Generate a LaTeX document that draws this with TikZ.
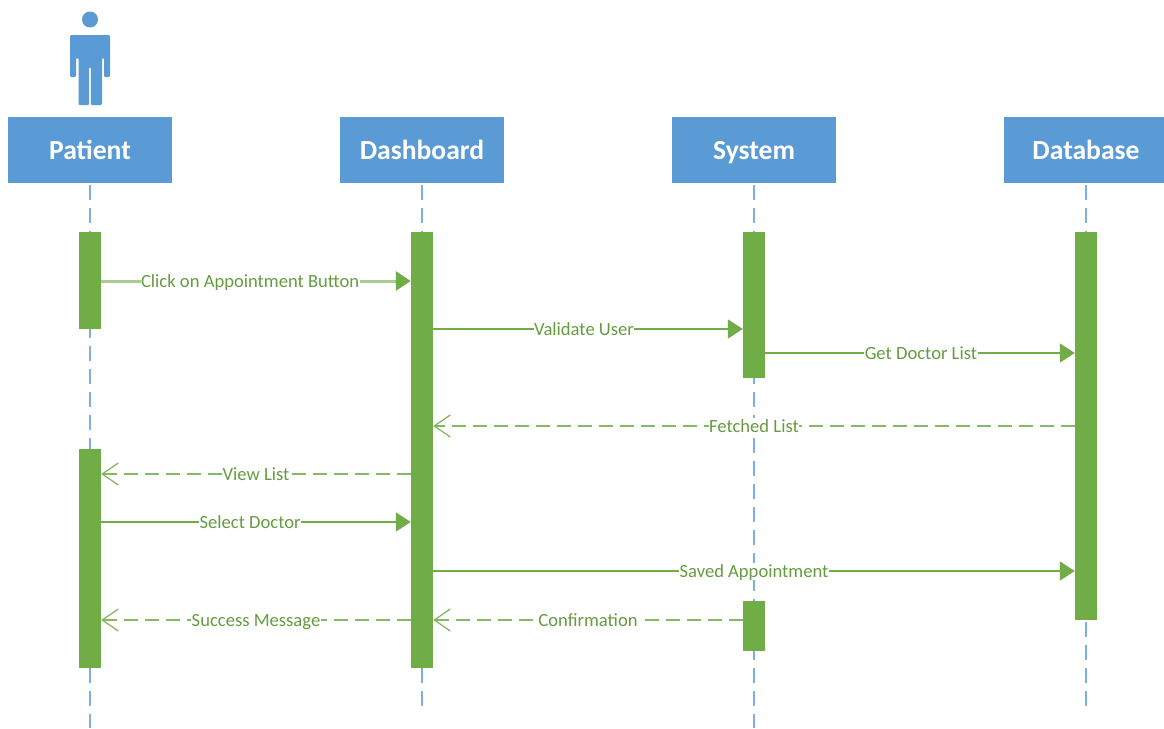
\documentclass[tikz,border=0pt]{standalone}
\usepackage{fontspec}
\setmainfont{Carlito}
\usetikzlibrary{arrows.meta}
\definecolor{hdrblue}{HTML}{5B9BD5}
\definecolor{actgreen}{HTML}{70AD47}
\definecolor{txtgreen}{HTML}{659C40}
\definecolor{lifeblue}{HTML}{7FAFDF}
\tikzset{
  x=1pt,y=-1pt,
  header/.style={rectangle,fill=hdrblue,draw=none,minimum width=164pt,minimum height=66pt,inner sep=0pt,text=white,text height=18pt,text depth=0pt,font=\fontsize{27.6}{30}\selectfont\bfseries},
  activation/.style={rectangle,fill=actgreen,draw=none,minimum width=22pt,inner sep=0pt},
  lifeline/.style={draw=lifeblue,line width=1.8pt,dash pattern=on 15pt off 8pt,shorten <=2pt},
  callmsg/.style={draw=actgreen,line width=1.6pt,-{Triangle[length=15pt,width=19pt,fill=actgreen]}},
  callsoft/.style={draw=actgreen!60,line width=3pt,-{Triangle[length=15pt,width=19pt,fill=actgreen,color=actgreen]}},
  retmsg/.style={draw=actgreen!85,line width=1.8pt,dash pattern=on 14pt off 7pt,-{Straight Barb[length=16pt,width=22pt,line width=1.2pt,color=actgreen!90]}},
  msglabel/.style={fill=white,inner xsep=0.5pt,inner ysep=0pt,text=txtgreen,text height=15pt,text depth=2pt,font=\fontsize{18.6}{21}\selectfont},
}
\begin{document}
\begin{tikzpicture}
\useasboundingbox (0,0) rectangle (1164,728);
\clip (0,0) rectangle (1164,728);
\fill[white] (0,0) rectangle (1164,728);

% actor
\fill[hdrblue] (90,19.5) circle (8);
\fill[hdrblue,rounded corners=1.2pt] (70,77) -- (70,35) -- (110,35) -- (110,77) -- (104,77) -- (104,58) -- (102,58) -- (102,105) -- (90.8,105) -- (90.8,67) -- (89.2,67) -- (89.2,105) -- (78.5,105) -- (78.5,58) -- (76,58) -- (76,77) -- cycle;

% headers
\node[header] (pat) at (90,150) {Patient};
\node[header] (das) at (422,150) {Dashboard};
\node[header] (sys) at (754,150) {System};
\node[header] (dbs) at (1086,150) {Database};

% lifeline ends
\coordinate (patend) at (90,728);
\coordinate (dasend) at (422,708);
\coordinate (sysend) at (754,728);
\coordinate (dbsend) at (1086,708);
\draw[lifeline] (pat.south) -- (patend);
\draw[lifeline] (das.south) -- (dasend);
\draw[lifeline] (sys.south) -- (sysend);
\draw[lifeline] (dbs.south) -- (dbsend);

% activations
\node[activation,minimum height=97pt]  (pa) at (90,280.5) {};
\node[activation,minimum height=219pt] (pb) at (90,558.5) {};
\node[activation,minimum height=436pt] (da) at (422,450) {};
\node[activation,minimum height=146pt] (sa) at (754,305) {};
\node[activation,minimum height=50pt]  (sb) at (754,626) {};
\node[activation,minimum height=388pt] (db) at (1086,426) {};

% messages
\draw[callsoft] (pa.east |- 0,281) -- node[msglabel,pos=.481] (m1) {Click on Appointment Button} (da.west |- 0,281);
\draw[callmsg] (da.east |- 0,329) -- node[msglabel,pos=.487] (m2) {Validate User} (sa.west |- 0,329);
\draw[callmsg] (sa.east |- 0,353) -- node[msglabel,pos=.503] (m3) {Get Doctor List} (db.west |- 0,353);
\draw[retmsg] (db.west |- 0,426) -- node[msglabel,pos=.5] (m4) {Fetched List} (da.east |- 0,426);
\draw[retmsg] (da.west |- 0,474) -- node[msglabel,pos=.5] (m5) {View List} (pb.east |- 0,474);
\draw[callmsg] (pb.east |- 0,522) -- node[msglabel,pos=.481] (m6) {Select Doctor} (da.west |- 0,522);
\draw[callmsg] (da.east |- 0,571) -- node[msglabel,pos=.5] (m7) {Saved Appointment} (db.west |- 0,571);
\draw[retmsg] (sb.west |- 0,620) -- node[msglabel,pos=.5] (m8) {Confirmation} (da.east |- 0,620);
\draw[retmsg] (da.west |- 0,620) -- node[msglabel,pos=.5] (m9) {Success Message} (pb.east |- 0,620);
\end{tikzpicture}
\end{document}
